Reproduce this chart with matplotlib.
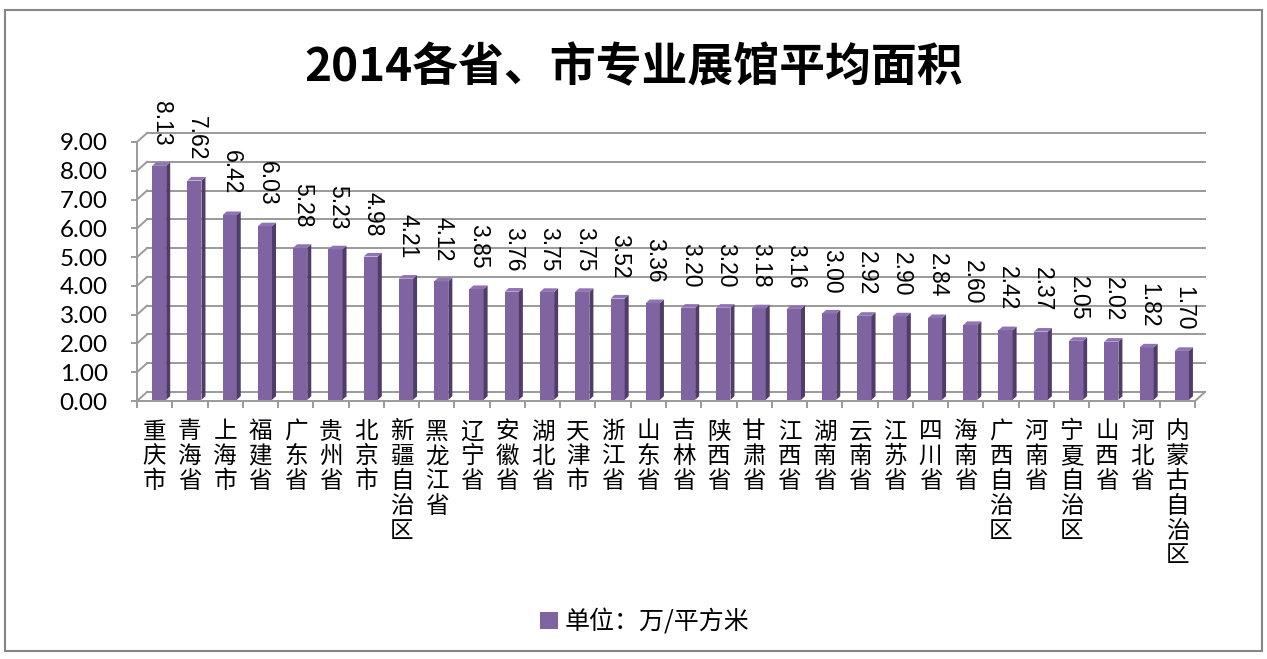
import matplotlib
matplotlib.use('Agg')
import matplotlib.pyplot as plt
from matplotlib.patches import Polygon, Patch

plt.rcParams['font.family'] = ['Noto Sans CJK SC', 'DejaVu Sans']

provinces = ['重庆市', '青海省', '上海市', '福建省', '广东省', '贵州省', '北京市',
             '新疆自治区', '黑龙江省', '辽宁省', '安徽省', '湖北省', '天津市', '浙江省',
             '山东省', '吉林省', '陕西省', '甘肃省', '江西省', '湖南省', '云南省',
             '江苏省', '四川省', '海南省', '广西自治区', '河南省', '宁夏自治区',
             '山西省', '河北省', '内蒙古自治区']
area = [8.13, 7.62, 6.42, 6.03, 5.28, 5.23, 4.98, 4.21, 4.12, 3.85, 3.76, 3.75,
        3.75, 3.52, 3.36, 3.20, 3.20, 3.18, 3.16, 3.00, 2.92, 2.90, 2.84, 2.60,
        2.42, 2.37, 2.05, 2.02, 1.82, 1.70]
y_ticks = [0, 1, 2, 3, 4, 5, 6, 7, 8, 9]
title = '2014各省、市专业展馆平均面积'
series_name = '单位：万/平方米'

W, H = 1267, 659
fig = plt.figure(figsize=(W / 100, H / 100), dpi=100)

# outer chart border
fig.patches.append(plt.Rectangle((5 / W, 8 / H), 1257 / W, 641 / H, transform=fig.transFigure,
                                 fill=False, edgecolor='#868686', linewidth=1.5))

fig.text(0.5, 1 - 68 / H, title, ha='center', va='center', fontsize=33, fontweight='bold')

ax = fig.add_axes([137 / W, 1 - 401 / H, (1195 - 137) / W, (401 - 142) / H])
n = len(area)
ax.set_xlim(-0.5, n - 0.5)
ax.set_ylim(0, 9)
for s in ax.spines.values():
    s.set_visible(False)

# depth of the 3D box in data units
dx, dy = 0.284, 0.313
grid_c = '#9a9a9a'
lw = 1.4

# back wall gridlines, side-wall diagonals
for k in y_ticks:
    ax.plot([-0.5 + dx, n - 0.5 + dx], [k + dy, k + dy], color=grid_c, lw=lw, clip_on=False, zorder=1)
    ax.plot([-0.5, -0.5 + dx], [k, k + dy], color=grid_c, lw=lw, clip_on=False, zorder=1)
# front floor edge, right floor edge, left axis
ax.plot([-0.5, n - 0.5], [0, 0], color=grid_c, lw=lw, clip_on=False, zorder=1)
ax.plot([n - 0.5, n - 0.5 + dx], [0, dy], color=grid_c, lw=lw, clip_on=False, zorder=1)
ax.plot([-0.5, -0.5], [0, 9], color=grid_c, lw=lw, clip_on=False, zorder=1)

ax.set_yticks(y_ticks)
ax.set_yticklabels(['%.2f' % v for v in y_ticks], family='Lato', fontsize=17.5)
ax.tick_params(axis='y', length=4, width=lw, color=grid_c, pad=17)
ax.set_xticks([i - 0.5 for i in range(n + 1)], minor=True)
ax.set_xticks(range(n))
ax.set_xticklabels(['\n'.join(p) for p in provinces], fontsize=17, linespacing=1.1, va='top')
ax.tick_params(axis='x', which='major', length=0, pad=14)
ax.tick_params(axis='x', which='minor', length=5, width=lw, color=grid_c)

# bars: front face, side, top
w = 0.4
f0, f1 = 0.45, 0.85
front_c, side_c, top_c = '#8064a2', '#4f3c68', '#8f74b3'
xs = [i + dx * f0 for i in range(n)]
ax.bar(xs, area, width=w, bottom=dy * f0 - 0.1, color=front_c, zorder=3)
for x, v in zip(xs, area):
    x1 = x + w / 2
    x0 = x - w / 2
    ox, oy = dx * (f1 - f0), dy * (f1 - f0)
    b = dy * f0 - 0.1
    side = Polygon([(x1, b), (x1 + ox, b + oy), (x1 + ox, v + b + oy), (x1, v + b)],
                   closed=True, facecolor=side_c, edgecolor='none', zorder=3)
    top = Polygon([(x0, v + b), (x0 + ox, v + b + oy), (x1 + ox, v + b + oy), (x1, v + b)],
                  closed=True, facecolor=top_c, edgecolor='none', zorder=3)
    ax.add_patch(side)
    ax.add_patch(top)
    ax.annotate('%.2f' % v, (x + ox / 2, v + b + oy), xytext=(0, 12), textcoords='offset points',
                rotation=270, ha='center', va='bottom', fontsize=16.5, family='Liberation Sans',
                annotation_clip=False)

fig.legend(handles=[Patch(facecolor=front_c, edgecolor='none')], labels=[series_name],
           loc='center', bbox_to_anchor=(645 / W, 1 - 622 / H), frameon=False, fontsize=18,
           handlelength=0.7, handleheight=0.7, handletextpad=0.3)

fig.savefig('out.png', dpi=100)
